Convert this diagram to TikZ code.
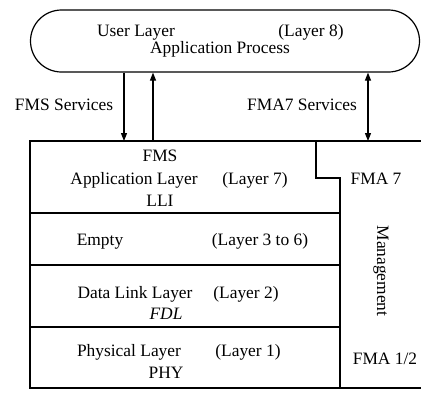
\documentclass[tikz,border=0pt]{standalone}
\usepackage{fontspec}
\setmainfont{Liberation Serif}
\usetikzlibrary{shapes.misc,arrows.meta}
\begin{document}
\begin{tikzpicture}[x=1pt,y=-1pt,
  every node/.style={font=\fontsize{17.4}{20}\selectfont, inner sep=0pt},
  lbl/.style={anchor=base},
  ln/.style={line width=1.2pt},
  tip/.tip={Triangle[length=8pt,width=6pt]},
  arr/.style={line width=1.1pt, -tip},
  darr/.style={line width=1.1pt, tip-tip}]
\useasboundingbox (0,0) rectangle (421,397);

% user layer
\node[draw, ln, rounded rectangle, minimum width=389pt, minimum height=62pt] (ul) at (225,41) {};
\node[lbl] (t1) at (136,36) {User Layer};
\node[lbl] (t2) at (311,36) {(Layer 8)};
\node[lbl] (t3) at (220,53) {Application Process};

% services
\node[lbl] (s1) at (64,110) {FMS Services};
\node[lbl] (s2) at (302,110) {FMA7 Services};

\coordinate (a1) at (124,141);
\coordinate (a2) at (153,141);
\coordinate (a3) at (368,141);
\draw[arr] (ul.south -| a1) -- (a1);
\draw[arr] (a2) -- (ul.south -| a2);
\draw[darr] (ul.south -| a3) -- (a3);

% stack outline
\coordinate (tl) at (30,141);
\coordinate (tr) at (421,141);
\coordinate (bl) at (30,388);
\coordinate (br) at (421,388);
\coordinate (s0) at (316,141);
\coordinate (s1c) at (316,178);
\coordinate (s2c) at (340,178);
\coordinate (s3) at (340,388);
\draw[ln] (tr) -- (tl) -- (bl) -- (br);
\draw[ln] (s0) -- (s1c) -- (s2c) -- (s3);
\draw[ln] (30,213) -- (340,213);
\draw[ln] (30,265) -- (340,265);
\draw[ln] (30,327) -- (340,327);

% layer 7
\node[lbl] (l7a) at (160,161) {FMS};
\node[lbl] (l7b) at (134,184) {Application Layer};
\node[lbl] (l7c) at (255,184) {(Layer 7)};
\node[lbl] (l7d) at (160,206) {LLI};
\node[lbl] (f7) at (376,184) {FMA 7};

% layers 3-6
\node[lbl] (e1) at (100,245) {Empty};
\node[lbl] (e2) at (260,245) {(Layer 3 to 6)};

% layer 2
\node[lbl] (d1) at (135,298) {Data Link Layer};
\node[lbl] (d2) at (246,298) {(Layer 2)};
\node[lbl] (d3) at (166,319) {\textit{FDL}};

% layer 1
\node[lbl] (p1) at (129,356) {Physical Layer};
\node[lbl] (p2) at (248,356) {(Layer 1)};
\node[lbl] (p3) at (166,378) {PHY};

% management
\node[rotate=-90] (mg) at (381,271) {Management};
\node[lbl] (f12) at (385,364) {FMA 1/2};
\end{tikzpicture}
\end{document}
